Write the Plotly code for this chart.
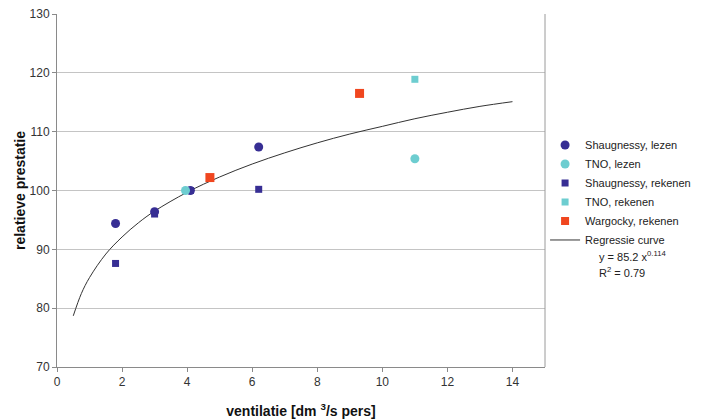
import plotly.graph_objects as go

# Data
shaug_lezen_x = [1.8, 3.0, 4.1, 6.2]
shaug_lezen_y = [94.4, 96.4, 100.0, 107.4]

tno_lezen_x = [3.95, 11.0]
tno_lezen_y = [100.0, 105.4]

shaug_rek_x = [1.8, 3.0, 4.1, 6.2]
shaug_rek_y = [87.6, 96.0, 100.0, 100.2]

tno_rek_x = [11.0]
tno_rek_y = [118.9]

warg_rek_x = [4.7, 9.3]
warg_rek_y = [102.2, 116.5]

curve_x = [0.5, 0.75, 1, 1.5, 2, 2.5, 3, 4, 5, 6, 7, 8, 9, 10, 11, 12, 13, 14]
curve_y = [78.7, 82.5, 85.2, 89.2, 92.1, 94.5, 96.5, 99.7, 102.3, 104.5,
           106.4, 108.1, 109.6, 110.9, 112.2, 113.3, 114.3, 115.1]

DARK = "#372e94"
CYAN = "#6dcdd0"
RED = "#f0461f"

fig = go.Figure()
fig.add_trace(go.Scatter(x=curve_x, y=curve_y, mode="lines", name="Regressie curve",
                         line=dict(color="#333333", width=1, shape="spline"), showlegend=False))
fig.add_trace(go.Scatter(x=shaug_rek_x, y=shaug_rek_y, mode="markers", name="Shaugnessy, rekenen",
                         marker=dict(symbol="square", size=7, color=DARK), showlegend=False))
fig.add_trace(go.Scatter(x=shaug_lezen_x, y=shaug_lezen_y, mode="markers", name="Shaugnessy, lezen",
                         marker=dict(symbol="circle", size=9, color=DARK), showlegend=False))
fig.add_trace(go.Scatter(x=tno_lezen_x, y=tno_lezen_y, mode="markers", name="TNO, lezen",
                         marker=dict(symbol="circle", size=9, color=CYAN), showlegend=False))
fig.add_trace(go.Scatter(x=tno_rek_x, y=tno_rek_y, mode="markers", name="TNO, rekenen",
                         marker=dict(symbol="square", size=7, color=CYAN), showlegend=False))
fig.add_trace(go.Scatter(x=warg_rek_x, y=warg_rek_y, mode="markers", name="Wargocky, rekenen",
                         marker=dict(symbol="square", size=9, color=RED), showlegend=False))

# legend-only traces in reference order
legend_items = [
    ("Shaugnessy, lezen", dict(symbol="circle", size=9, color=DARK), "markers"),
    ("TNO, lezen", dict(symbol="circle", size=9, color=CYAN), "markers"),
    ("Shaugnessy, rekenen", dict(symbol="square", size=7, color=DARK), "markers"),
    ("TNO, rekenen", dict(symbol="square", size=7, color=CYAN), "markers"),
    ("Wargocky, rekenen", dict(symbol="square", size=8, color=RED), "markers"),
]
for name, mk, mode in legend_items:
    fig.add_trace(go.Scatter(x=[None], y=[None], mode=mode, name=name, marker=mk))
fig.add_trace(go.Scatter(x=[None], y=[None], mode="lines", name="Regressie curve",
                         line=dict(color="#333333", width=1)))

# the page body adds an 8px offset, so the figure is 8px smaller
fig.update_layout(
    width=693, height=411,
    margin=dict(l=49, r=156, t=6, b=52, autoexpand=False),
    paper_bgcolor="white", plot_bgcolor="white",
    font=dict(family="Liberation Sans, Arial, sans-serif", size=12, color="#222222"),
    legend=dict(xref="container", yref="container", x=0.775, y=0.702,
                xanchor="left", yanchor="top",
                font=dict(size=11, color="#222222"), tracegroupgap=0,
                itemwidth=30, bgcolor="rgba(0,0,0,0)"),
    annotations=[
        dict(xref="paper", yref="paper", x=1.107, y=0.314, xanchor="left", yanchor="middle",
             text="y = 85.2 x<sup>0.114</sup>", showarrow=False, font=dict(size=11, color="#222222")),
        dict(xref="paper", yref="paper", x=1.107, y=0.268, xanchor="left", yanchor="middle",
             text="R<sup>2</sup> = 0.79", showarrow=False, font=dict(size=11, color="#222222")),
    ],
)
fig.update_xaxes(range=[0, 15], tickvals=[0, 2, 4, 6, 8, 10, 12, 14], showgrid=False,
                 showline=True, linecolor="#8a8a8a", linewidth=1, mirror=False, automargin=False,
                 ticks="outside", ticklen=4, tickcolor="#8a8a8a", zeroline=False,
                 tickfont=dict(size=12, color="#333333"), ticklabeloverflow="allow",
                 title=dict(text="<b>ventilatie [dm <sup>3</sup>/s pers]</b>", font=dict(size=14, color="#111111"), standoff=17))
fig.update_yaxes(range=[70, 130], dtick=10, showgrid=True, gridcolor="#c4c4c4", gridwidth=1,
                 showline=True, linecolor="#8a8a8a", linewidth=1, automargin=False,
                 ticks="outside", ticklen=4, tickcolor="#8a8a8a", zeroline=False,
                 tickfont=dict(size=12, color="#333333"), ticklabeloverflow="allow",
                 title=dict(text="<b>relatieve prestatie</b>", font=dict(size=14, color="#111111"), standoff=0))
# right border of plot area
fig.add_shape(type="line", xref="paper", yref="paper", x0=1, x1=1, y0=0, y1=1,
              line=dict(color="#9a9a9a", width=1))

fig.write_html("out.html")
